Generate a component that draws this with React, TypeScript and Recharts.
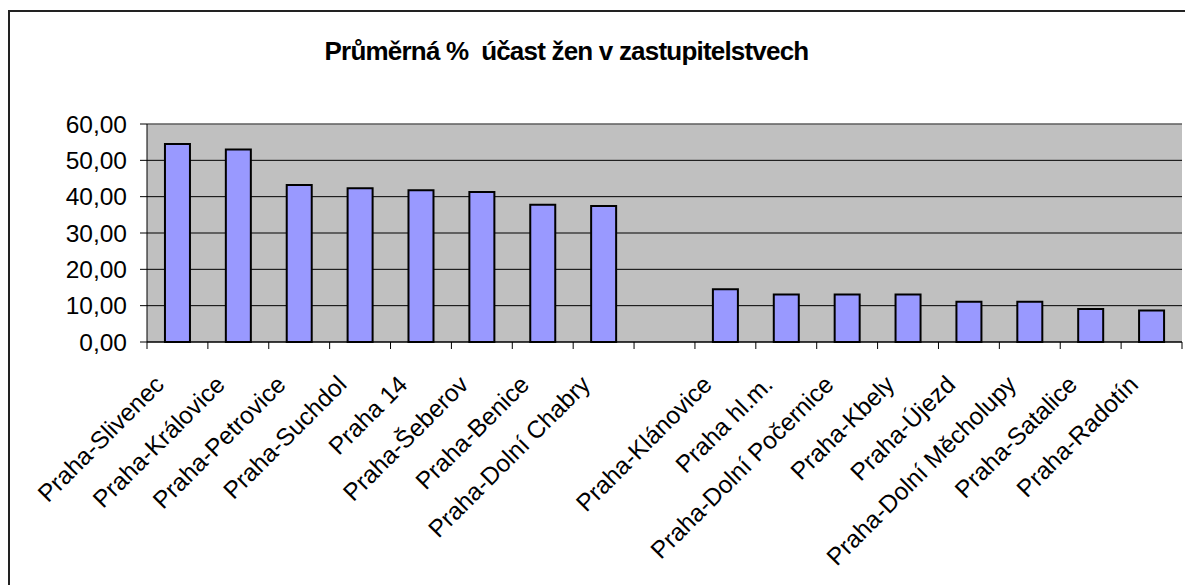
import { BarChart, Bar, CartesianGrid, XAxis, YAxis, ReferenceLine } from "recharts";

const categories = [
  "Praha-Slivenec",
  "Praha-Královice",
  "Praha-Petrovice",
  "Praha-Suchdol",
  "Praha 14",
  "Praha-Šeberov",
  "Praha-Benice",
  "Praha-Dolní Chabry",
  "",
  "Praha-Klánovice",
  "Praha hl.m.",
  "Praha-Dolní Počernice",
  "Praha-Kbely",
  "Praha-Újezd",
  "Praha-Dolní Měcholupy",
  "Praha-Satalice",
  "Praha-Radotín",
];

const shares = [54.5, 53.0, 43.2, 42.3, 41.8, 41.3, 37.8, 37.4, null, 14.5, 13.1, 13.1, 13.1, 11.1, 11.1, 9.1, 8.7];

const yTicks = [0, 10, 20, 30, 40, 50, 60];

const data = categories.map((name, i) => ({ name, value: shares[i] }));

const WIDTH = 1185;
const HEIGHT = 585;
const PLOT_LEFT = 147;
const PLOT_RIGHT = 1182;
const FONT = "'Liberation Sans', Arial, sans-serif";

const fmt = (v: number) => v.toFixed(2).replace(".", ",");

function CategoryTick(props: any) {
  const { x, y, payload, index } = props;
  const step = (PLOT_RIGHT - PLOT_LEFT) / categories.length;
  const last = index === categories.length - 1;
  return (
    <g>
      <line x1={x - step / 2} x2={x - step / 2} y1={y} y2={y + 7} stroke="#000" />
      {last && <line x1={x + step / 2} x2={x + step / 2} y1={y} y2={y + 7} stroke="#000" />}
      <text
        transform={`translate(${x - 12},${y + 44}) rotate(-45)`}
        textAnchor="end"
        fontSize={24.5}
        fontFamily={FONT}
        fill="#000"
      >
        {payload.value}
      </text>
    </g>
  );
}

export default function App() {
  return (
    <div style={{ position: "absolute", left: 0, top: 0, width: WIDTH, height: HEIGHT, overflow: "hidden", background: "#fff" }}>
      <div
        style={{
          position: "absolute",
          left: 8,
          top: 10,
          width: WIDTH,
          height: HEIGHT,
          borderTop: "2px solid #222",
          borderLeft: "2px solid #222",
        }}
      />
      <div
        style={{
          position: "absolute",
          left: 0,
          width: 1133,
          top: 38,
          textAlign: "center",
          fontFamily: FONT,
          fontWeight: "bold",
          fontSize: 26,
          letterSpacing: -0.8,
          lineHeight: "26px",
          color: "#000",
        }}
      >
        Průměrná %&nbsp; účast žen v zastupitelstvech
      </div>
      <div style={{ position: "absolute", left: 0, top: 0 }}>
        <BarChart
          width={WIDTH}
          height={HEIGHT}
          data={data}
          margin={{ top: 124, right: WIDTH - PLOT_RIGHT, bottom: 43, left: PLOT_LEFT - 80 }}
          barCategoryGap="29.5%"
        >
          <CartesianGrid fill="#C0C0C0" vertical={false} stroke="#000" strokeOpacity={1} />
          <ReferenceLine y={60} stroke="#8c8c8c" />
          <XAxis
            dataKey="name"
            interval={0}
            height={200}
            axisLine={{ stroke: "#000" }}
            tickLine={false}
            tickSize={0}
            tickMargin={0}
            tick={<CategoryTick />}
          />
          <YAxis
            width={80}
            domain={[0, 60]}
            ticks={yTicks}
            tickFormatter={fmt}
            axisLine={{ stroke: "#000" }}
            tickLine={{ stroke: "#000" }}
            tickSize={7}
            tickMargin={13}
            tick={{ fontSize: 24.5, fontFamily: FONT, fill: "#000" }}
          />
          <Bar dataKey="value" fill="#9999FF" stroke="#000" strokeWidth={2} isAnimationActive={false} />
        </BarChart>
      </div>
    </div>
  );
}
